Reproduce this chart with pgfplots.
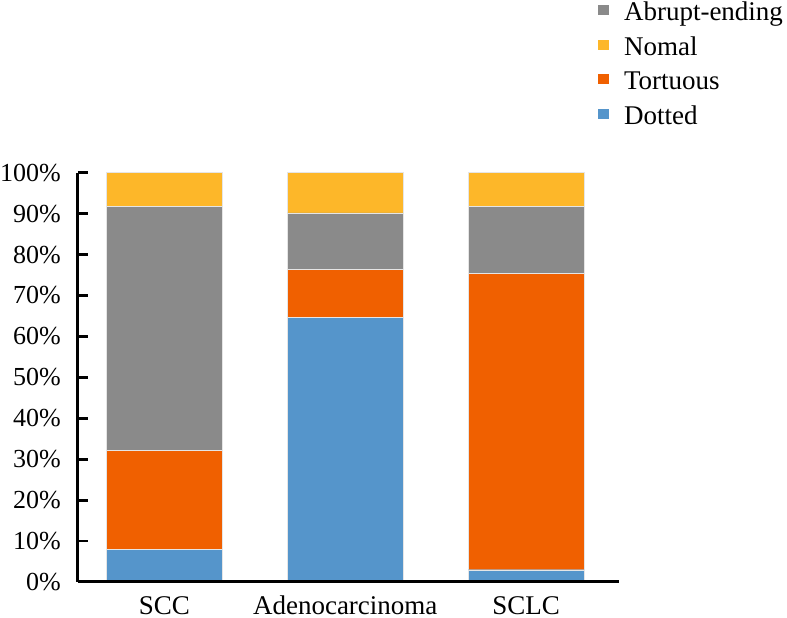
\documentclass[border=0pt]{standalone}
\usepackage{fontspec}
\setmainfont{Liberation Serif}
\usepackage{pgfplots}
\pgfplotsset{compat=1.18}
\definecolor{cblue}{RGB}{85,149,203}
\definecolor{corange}{RGB}{240,96,0}
\definecolor{cgray}{RGB}{138,138,138}
\definecolor{cyellow}{RGB}{253,183,41}
\begin{document}
\begin{tikzpicture}
\path[use as bounding box] (-78pt,-36pt) rectangle (709pt,582pt);
\begin{axis}[
  scale only axis, width=541pt, height=409.3pt,
  xmin=-0.477, xmax=2.513, ymin=0, ymax=100,
  ybar stacked, bar width=0.64,
  axis on top,
  axis x line*=bottom, axis y line*=left,
  axis line style={line width=3pt, -, black},
  every outer x axis line/.append style={line width=3pt, black},
  every outer y axis line/.append style={line width=3pt, black},
  xtick={0,1,2}, xticklabels={SCC,Adenocarcinoma,SCLC},
  x tick style={draw=none},
  xticklabel style={anchor=base, inner sep=0pt, yshift=-33pt, font=\fontsize{27}{27}\selectfont},
  ytick={0,10,...,100},
  yticklabels={0\%,10\%,20\%,30\%,40\%,50\%,60\%,70\%,80\%,90\%,100\%},
  yticklabel style={anchor=east, inner sep=0pt, xshift=-17pt, font=\fontsize{26}{26}\selectfont},
  ytick style={line width=2.8pt, black},
  major y tick style={line width=2.8pt, black},
  ytick pos=left,
  ytick align=inside, major tick length=10pt,
  legend style={at={(axis description cs:0.9603,1.4183)}, anchor=north west,
    draw=none, fill=none, inner sep=0pt, outer sep=0pt,
    font=\fontsize{27}{27}\selectfont, row sep=9.6pt, column sep=15pt,
    nodes={inner sep=0pt, text height=19pt, text depth=6pt}},
  legend cell align=left,
  legend image code/.code={\fill[#1] (0pt,-1pt) rectangle (11.5pt,9pt);},
]
\addplot[forget plot, fill=cblue, draw=white!90!black, line width=0.4pt] coordinates {(0,8.0) (1,64.6) (2,3.0)};
\addplot[forget plot, fill=corange, draw=white!90!black, line width=0.4pt] coordinates {(0,24.2) (1,11.8) (2,72.4)};
\addplot[forget plot, fill=cgray, draw=white!90!black, line width=0.4pt] coordinates {(0,59.5) (1,13.8) (2,16.3)};
\addplot[forget plot, fill=cyellow, draw=white!90!black, line width=0.4pt] coordinates {(0,8.3) (1,9.8) (2,8.3)};
\addlegendimage{fill=cgray, draw=none}
\addlegendentry{Abrupt-ending}
\addlegendimage{fill=cyellow, draw=none}
\addlegendentry{Nomal}
\addlegendimage{fill=corange, draw=none}
\addlegendentry{Tortuous}
\addlegendimage{fill=cblue, draw=none}
\addlegendentry{Dotted}
\end{axis}
\end{tikzpicture}
\end{document}
